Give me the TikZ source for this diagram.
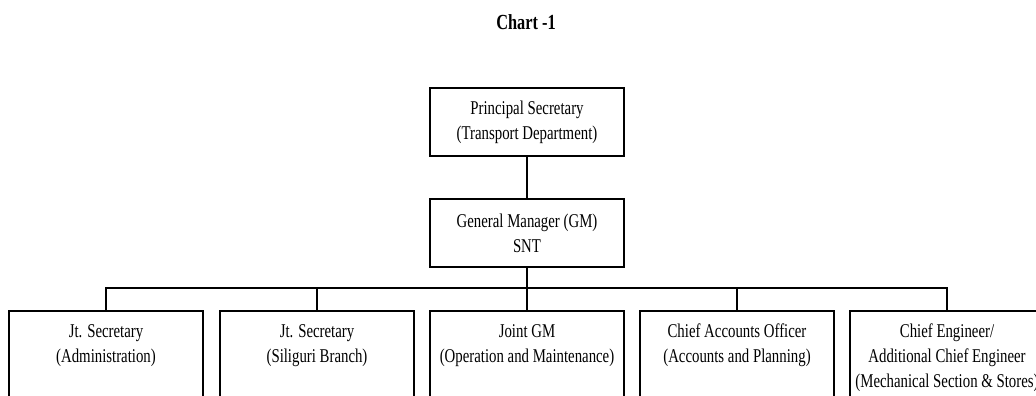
\documentclass[tikz,border=0pt]{standalone}
\usepackage{fontspec}
\setmainfont{Liberation Serif}[FakeStretch=0.76]
\newcommand\mybodyfont{\fontsize{19.5pt}{25pt}\selectfont}
\newcommand\mytitlefont{\fontsize{21.5pt}{26pt}\selectfont\bfseries}
\newcommand\lowtext[1]{\parbox[t][110pt][t]{194pt}{\centering\rule{0pt}{27pt}#1}}
\tikzset{
  box/.style={draw, line width=1.5pt, minimum width=194pt, minimum height=68pt,
              align=center, inner sep=0pt, font=\mybodyfont},
  lowbox/.style={draw, line width=1.5pt, anchor=north, inner sep=0pt, font=\mybodyfont},
  link/.style={line width=1.5pt}
}
\begin{document}
\begin{tikzpicture}[x=1pt,y=-1pt]
\useasboundingbox (0,0) rectangle (1036,396);
\clip (0,0) rectangle (1036,396);
\node[font=\mytitlefont, anchor=base, inner sep=0pt] (title) at (526,30) {Chart -1};
\node[box] (ps) at (527,122) {Principal Secretary\\(Transport Department)};
\node[box] (gm) at (527,233) {General Manager (GM)\\SNT};
\node[lowbox] (b1) at (106,310) {\lowtext{Jt. Secretary\\(Administration)}};
\node[lowbox] (b2) at (317,310) {\lowtext{Jt. Secretary\\(Siliguri Branch)}};
\node[lowbox] (b3) at (527,310) {\lowtext{Joint GM\\(Operation and Maintenance)}};
\node[lowbox] (b4) at (737,310) {\lowtext{Chief Accounts Officer\\(Accounts and Planning)}};
\node[lowbox] (b5) at (947,310) {\lowtext{Chief Engineer/\\Additional Chief Engineer\\(Mechanical Section \& Stores)}};
\coordinate (bus) at (527,288);
\draw[link] (ps.south) -- (gm.north);
\draw[link] (gm.south) -- (bus);
\draw[link] (b1.north) -- (b1.north |- bus) -- (b5.north |- bus) -- (b5.north);
\draw[link] (b2.north) -- (b2.north |- bus);
\draw[link] (b3.north) -- (b3.north |- bus);
\draw[link] (b4.north) -- (b4.north |- bus);
\end{tikzpicture}
\end{document}
